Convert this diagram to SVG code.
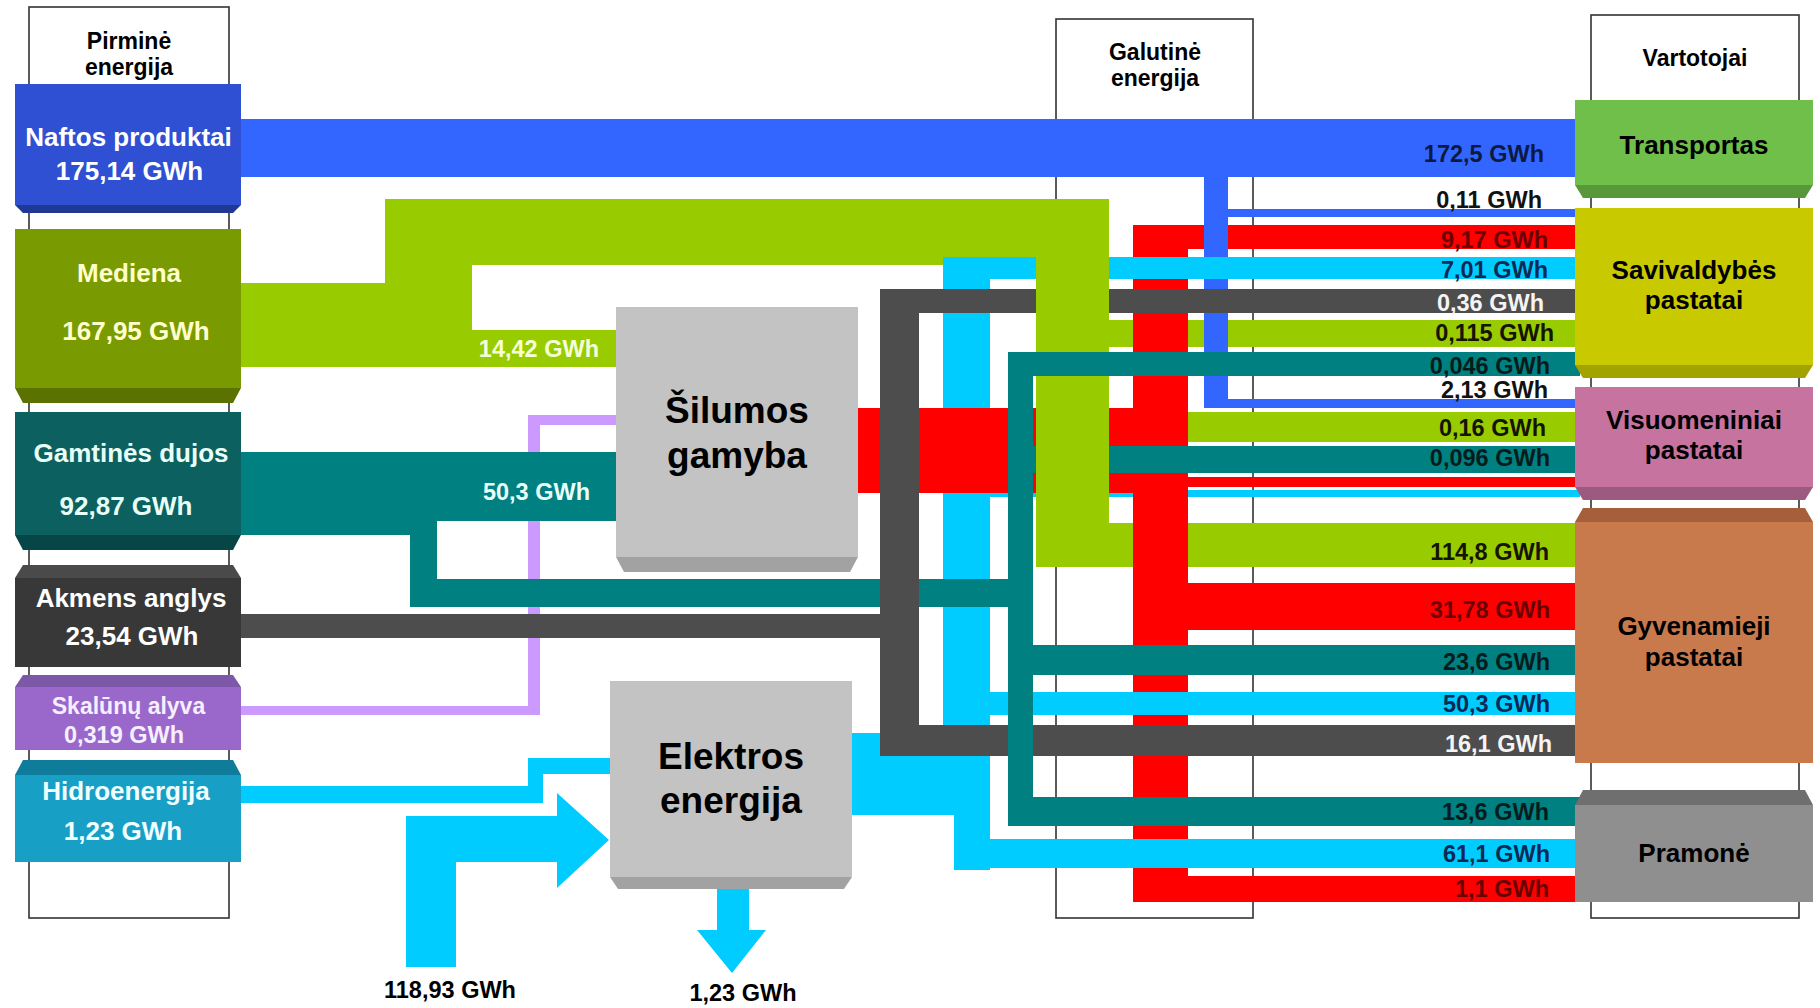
<svg xmlns="http://www.w3.org/2000/svg" width="1820" height="1008" viewBox="0 0 1820 1008">
<style>
.t{font-family:"Liberation Sans",Arial,sans-serif;font-weight:bold}
.hdr{fill:#fff;stroke:#333;stroke-width:1.6}
.lab{font-size:23.5px;text-anchor:end}
.nl{font-size:26px;text-anchor:middle}
.big{font-size:37px;text-anchor:middle;fill:#000}
.hd{font-size:23px;text-anchor:middle;fill:#000}
.blue{fill:#3366ff}.green{fill:#99cc00}.teal{fill:#008080}.gray{fill:#4d4d4d}.lav{fill:#cc99ff}.cyan{fill:#00ccff}.red{fill:#ff0000}
.onr{fill:#6b0000}.onc{fill:#0b2a55}.ont{fill:#061c1c}.ong{fill:#141400}.onw{fill:#111}.ongr{fill:#f4f4f4}
</style>
<rect width="1820" height="1008" fill="#fff"/>
<g id="col-primary"><rect class="hdr" x="29" y="7" width="200" height="911"/><text class="t hd" x="129" y="49">Pirminė</text><text class="t hd" x="129" y="75">energija</text></g>
<g id="col-final"><rect class="hdr" x="1056" y="19" width="197" height="899"/><text class="t hd" x="1155" y="60">Galutinė</text><text class="t hd" x="1155" y="86">energija</text></g>
<g id="col-consumers"><rect class="hdr" x="1591" y="15" width="208" height="903"/><text class="t hd" x="1695" y="66">Vartotojai</text></g>

<g id="connectors">
 <rect class="blue" x="240" y="119" width="1340" height="58"/>
 <polygon class="green" points="240,283 385,283 385,199 1109,199 1109,265 472,265 472,330 618,330 618,367 240,367"/>
 <rect class="green" x="1100" y="320" width="480" height="27"/>
 <rect class="green" x="1100" y="412" width="480" height="30"/>
 <rect class="green" x="1036" y="523" width="544" height="44"/>
 <rect class="cyan" x="943" y="257" width="47" height="480"/>
 <rect class="cyan" x="850" y="733" width="140" height="82"/>
 <rect class="cyan" x="954" y="733" width="36" height="137"/>
 <rect class="cyan" x="990" y="490" width="590" height="7"/>
 <rect class="red" x="1133" y="225" width="55" height="677"/>
 <rect class="red" x="1133" y="225" width="447" height="24"/>
 <rect class="red" x="1133" y="477" width="447" height="10"/>
 <rect class="red" x="1133" y="583" width="447" height="47"/>
 <rect class="red" x="1133" y="876" width="447" height="26"/>
 <rect class="blue" x="1204" y="170" width="24" height="238"/>
 <rect class="blue" x="1204" y="209" width="376" height="8"/>
 <rect class="blue" x="1204" y="399" width="376" height="9"/>
 <rect class="red" x="856" y="408" width="280" height="85"/>
 <polygon class="lav" points="240,706 528,706 528,415 618,415 618,425 540,425 540,715 240,715"/>
 <polygon class="teal" points="240,452 618,452 618,521 437,521 437,579 1033,579 1033,607 410,607 410,535 240,535"/>
 <polygon class="gray" points="240,614 880,614 880,289 1580,289 1580,313 919,313 919,725 1580,725 1580,756 880,756 880,638 240,638"/>
 <rect class="cyan" x="943" y="257" width="637" height="22"/>
 <rect class="cyan" x="990" y="692" width="590" height="23"/>
 <rect class="cyan" x="954" y="839" width="626" height="29"/>
 <rect class="teal" x="1033" y="446" width="547" height="27"/>
 <rect class="green" x="1036" y="199" width="73" height="368"/>
 <rect class="teal" x="1008" y="352" width="25" height="474"/>
 <rect class="teal" x="1008" y="352" width="572" height="24"/>
 <rect class="teal" x="1033" y="645" width="547" height="30"/>
 <rect class="teal" x="1008" y="797" width="572" height="29"/>
 <polygon class="cyan" points="240,786 528,786 528,758 612,758 612,774 543,774 543,803 240,803"/>
 <polygon class="cyan" points="406,967 406,816 557,816 557,793 609,840 557,888 557,862 456,862 456,967"/>
 <polygon class="cyan" points="717,885 749,885 749,930 766,930 732,973 697,930 717,930"/>
</g>

<g id="node-naftos"><rect x="15" y="84" width="226" height="121" fill="#2f50d2"/><polygon points="15,205 241,205 233,213 23,213" fill="#1e3894"/><text class="t nl" x="128.5" y="146" fill="#fff">Naftos produktai</text><text class="t nl" x="129.5" y="180" fill="#fff">175,14 GWh</text></g>
<g id="node-mediena"><rect x="15" y="229" width="226" height="159" fill="#7a9a02"/><polygon points="15,388 241,388 233,403 23,403" fill="#5a7300"/><text class="t nl" x="129" y="282" fill="#ffffcc">Mediena</text><text class="t nl" x="136" y="340" fill="#ffffcc">167,95 GWh</text></g>
<g id="node-dujos"><rect x="15" y="412" width="226" height="123" fill="#0c6060"/><polygon points="15,535 241,535 233,550 23,550" fill="#074646"/><text class="t nl" x="131" y="462" fill="#e8fff8">Gamtinės dujos</text><text class="t nl" x="126" y="515" fill="#e8fff8">92,87 GWh</text></g>
<g id="node-anglys"><polygon points="23,565 233,565 241,578 15,578" fill="#4a4a4a"/><rect x="15" y="578" width="226" height="89" fill="#383838"/><text class="t nl" x="131" y="607" fill="#fff">Akmens anglys</text><text class="t nl" x="132" y="645" fill="#fff">23,54 GWh</text></g>
<g id="node-alyva"><polygon points="23,675 233,675 241,687 15,687" fill="#7d57a8"/><rect x="15" y="687" width="226" height="63" fill="#9a68cb"/><text class="t nl" x="128.5" y="714" fill="#f6efff" style="font-size:23px">Skalūnų alyva</text><text class="t nl" x="124" y="743" fill="#f6efff" style="font-size:23.5px">0,319 GWh</text></g>
<g id="node-hidro"><polygon points="23,760 233,760 241,775 15,775" fill="#0f7c9c"/><rect x="15" y="775" width="226" height="87" fill="#189fc6"/><text class="t nl" x="126" y="800" fill="#f0ffff">Hidroenergija</text><text class="t nl" x="123" y="840" fill="#f0ffff">1,23 GWh</text></g>

<g id="node-silumos"><rect x="616" y="307" width="242" height="250" fill="#c3c3c3"/><polygon points="616,557 858,557 850,572 624,572" fill="#a2a2a2"/><text class="t big" x="737" y="423">Šilumos</text><text class="t big" x="737" y="468">gamyba</text></g>
<g id="node-elektros"><rect x="610" y="681" width="242" height="196" fill="#c3c3c3"/><polygon points="610,877 852,877 844,889 618,889" fill="#a2a2a2"/><text class="t big" x="731" y="769">Elektros</text><text class="t big" x="731" y="813">energija</text></g>

<g id="node-transportas"><rect x="1575" y="100" width="238" height="85" fill="#6fbf4a"/><polygon points="1575,185 1813,185 1805,198 1583,198" fill="#57993a"/><text class="t nl" x="1694" y="154" fill="#000">Transportas</text></g>
<g id="node-savivaldybes"><rect x="1575" y="208" width="238" height="157" fill="#c9c900"/><polygon points="1575,365 1813,365 1805,378 1583,378" fill="#a3a300"/><text class="t nl" x="1694" y="279" fill="#000">Savivaldybės</text><text class="t nl" x="1694" y="309" fill="#000">pastatai</text></g>
<g id="node-visuomeniniai"><rect x="1575" y="387" width="238" height="100" fill="#c673a0"/><polygon points="1575,487 1813,487 1805,500 1583,500" fill="#9c5a7e"/><text class="t nl" x="1694" y="429" fill="#000">Visuomeniniai</text><text class="t nl" x="1694" y="459" fill="#000">pastatai</text></g>
<g id="node-gyvenamieji"><polygon points="1583,508 1805,508 1813,522 1575,522" fill="#a55f3b"/><rect x="1575" y="522" width="238" height="241" fill="#c97a4d"/><text class="t nl" x="1694" y="635" fill="#000">Gyvenamieji</text><text class="t nl" x="1694" y="666" fill="#000">pastatai</text></g>
<g id="node-pramone"><polygon points="1583,790 1805,790 1813,805 1575,805" fill="#6f6f6f"/><rect x="1575" y="805" width="238" height="97" fill="#8f8f8f"/><text class="t nl" x="1694" y="862" fill="#000">Pramonė</text></g>

<g id="flow-labels">
 <text class="t lab" x="599" y="357" fill="#f4ffd8">14,42 GWh</text>
 <text class="t lab" x="590" y="500" fill="#eafffa">50,3 GWh</text>
 <text class="t" x="450" y="998" font-size="23.5" text-anchor="middle" fill="#000">118,93 GWh</text>
 <text class="t" x="743" y="1001" font-size="23.5" text-anchor="middle" fill="#000">1,23 GWh</text>
 <text class="t lab" x="1544" y="162" fill="#0c1a40">172,5 GWh</text>
 <text class="t lab onw" x="1542" y="208">0,11 GWh</text>
 <text class="t lab onr" x="1548" y="248">9,17 GWh</text>
 <text class="t lab onc" x="1548" y="278">7,01 GWh</text>
 <text class="t lab ongr" x="1544" y="311">0,36 GWh</text>
 <text class="t lab ong" x="1554" y="341">0,115 GWh</text>
 <text class="t lab ont" x="1550" y="374">0,046 GWh</text>
 <text class="t lab onw" x="1548" y="398">2,13 GWh</text>
 <text class="t lab ong" x="1546" y="436">0,16 GWh</text>
 <text class="t lab ont" x="1550" y="466">0,096 GWh</text>
 <text class="t lab ong" x="1549" y="560">114,8 GWh</text>
 <text class="t lab onr" x="1550" y="618">31,78 GWh</text>
 <text class="t lab ont" x="1550" y="670">23,6 GWh</text>
 <text class="t lab onc" x="1550" y="712">50,3 GWh</text>
 <text class="t lab ongr" x="1552" y="752">16,1 GWh</text>
 <text class="t lab ont" x="1549" y="820">13,6 GWh</text>
 <text class="t lab onc" x="1550" y="862">61,1 GWh</text>
 <text class="t lab onr" x="1549" y="897">1,1 GWh</text>
</g>
</svg>
